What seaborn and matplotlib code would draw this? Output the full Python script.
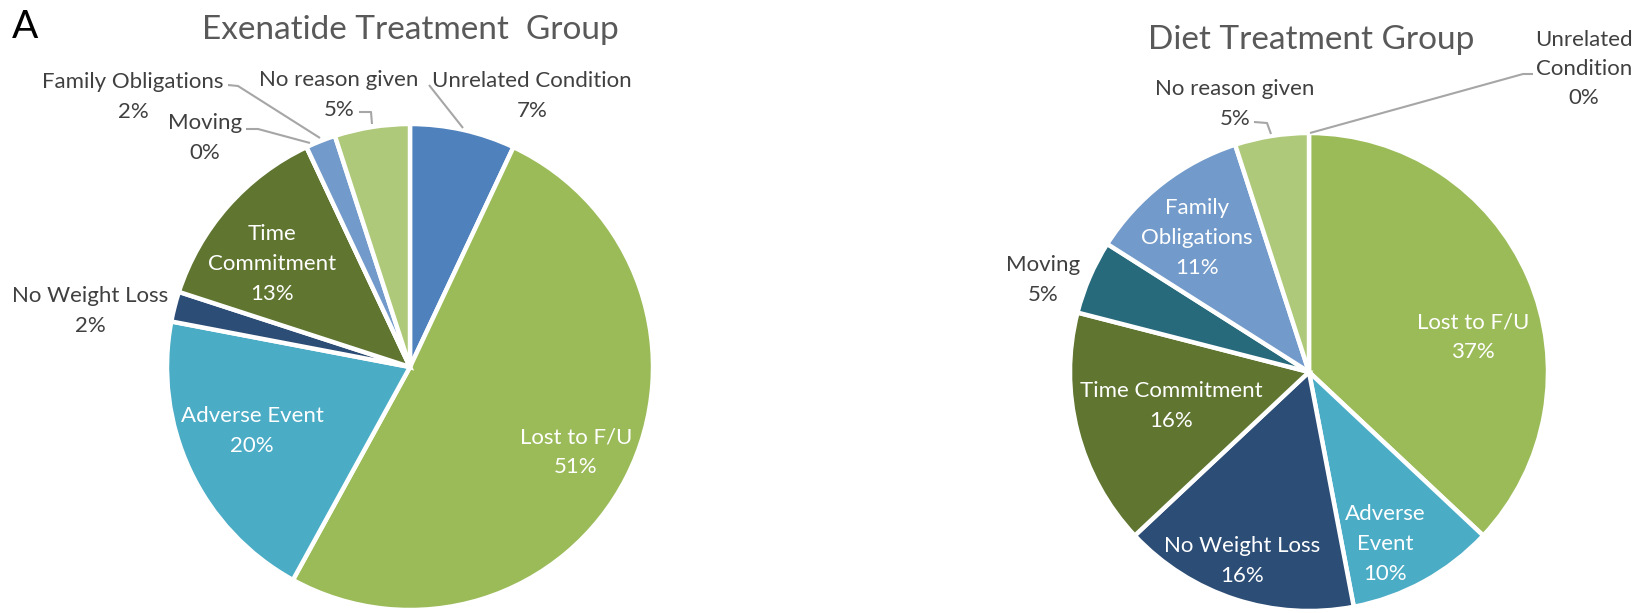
import numpy as np
import matplotlib
matplotlib.use('Agg')
import matplotlib.pyplot as plt
import seaborn as sns

sns.set_theme(style='white')
plt.rcParams['font.family'] = ['Lato', 'DejaVu Sans']

# categories in series order (clockwise from 12 o'clock)
categories = ['Unrelated Condition', 'Lost to F/U', 'Adverse Event', 'No Weight Loss',
              'Time Commitment', 'Moving', 'Family Obligations', 'No reason given']
exenatide_pct = [7, 51, 20, 2, 13, 0, 2, 5]
diet_pct = [0, 37, 10, 16, 16, 5, 11, 5]
palette = sns.color_palette(['#4F81BD', '#9BBB59', '#4BACC6', '#2C4D75',
                             '#5F7530', '#276A7C', '#729ACA', '#AFC97A'])

W, H = 1639, 613
DARK = '#404040'
LEAD = '#A6A6A6'
LINE_STEP = 29.5  # px between label lines

# label layout (pixel positions): text, x, y, colour, leader line points
left_labels = [
    ('Unrelated Condition', 532, 96, DARK, [(429, 85), (463, 128)]),
    ('Lost to F/U', 576, 452, 'white', None),
    ('Adverse Event', 252, 431, 'white', None),
    ('No Weight Loss', 90, 311, DARK, None),
    ('Time\nCommitment', 272, 264, 'white', None),
    ('Moving', 205, 138, DARK, [(246, 129), (258, 129), (310, 143)]),
    ('Family Obligations', 133, 97, DARK, [(228, 85), (238, 86), (320, 138)]),
    ('No reason given', 339, 95, DARK, [(359, 112), (371, 112), (372, 124)]),
]
right_labels = [
    ('Unrelated\nCondition', 1584, 69, DARK, [(1533, 74), (1523, 74), (1310, 133)]),
    ('Lost to F/U', 1473, 337, 'white', None),
    ('Adverse\nEvent', 1385, 544, 'white', None),
    ('No Weight Loss', 1242, 561, 'white', None),
    ('Time Commitment', 1171, 406, 'white', None),
    ('Moving', 1043, 280, DARK, None),
    ('Family\nObligations', 1197, 238, 'white', None),
    ('No reason given', 1235, 104, DARK, [(1254, 122), (1267, 123), (1271, 134)]),
]


def draw_pie(ax, values, center, radius, labels, title, title_xy):
    ax.pie(values, colors=palette, center=center, radius=radius,
           startangle=-90, counterclock=True,
           wedgeprops=dict(edgecolor='white', linewidth=3.2))
    for (name, x, y, col, lead), v in zip(labels, values):
        lines = name.split('\n') + [f'{v}%']
        n = len(lines)
        for i, s in enumerate(lines):
            ax.text(x, y + (i - (n - 1) / 2) * LINE_STEP, s, ha='center', va='center',
                    color=col, fontsize=16)
        if lead:
            xs, ys = zip(*lead)
            ax.plot(xs, ys, color=LEAD, lw=1.5, solid_capstyle='butt')
    ax.text(title_xy[0], title_xy[1], title, ha='center', va='center',
            fontsize=24, color='#595959')


fig = plt.figure(figsize=(W / 100, H / 100), dpi=100)
ax = fig.add_axes([0, 0, 1, 1])

draw_pie(ax, exenatide_pct, (410, 367), 243, left_labels,
         'Exenatide Treatment  Group', (410, 30))
draw_pie(ax, diet_pct, (1309, 372), 239, right_labels,
         'Diet Treatment Group', (1311, 40))
ax.text(25, 27, 'A', ha='center', va='center', fontsize=28, color='black')

ax.set_xlim(0, W)
ax.set_ylim(H, 0)
ax.set_aspect('equal')
ax.axis('off')

fig.savefig('out.png', dpi=100, facecolor='white')
